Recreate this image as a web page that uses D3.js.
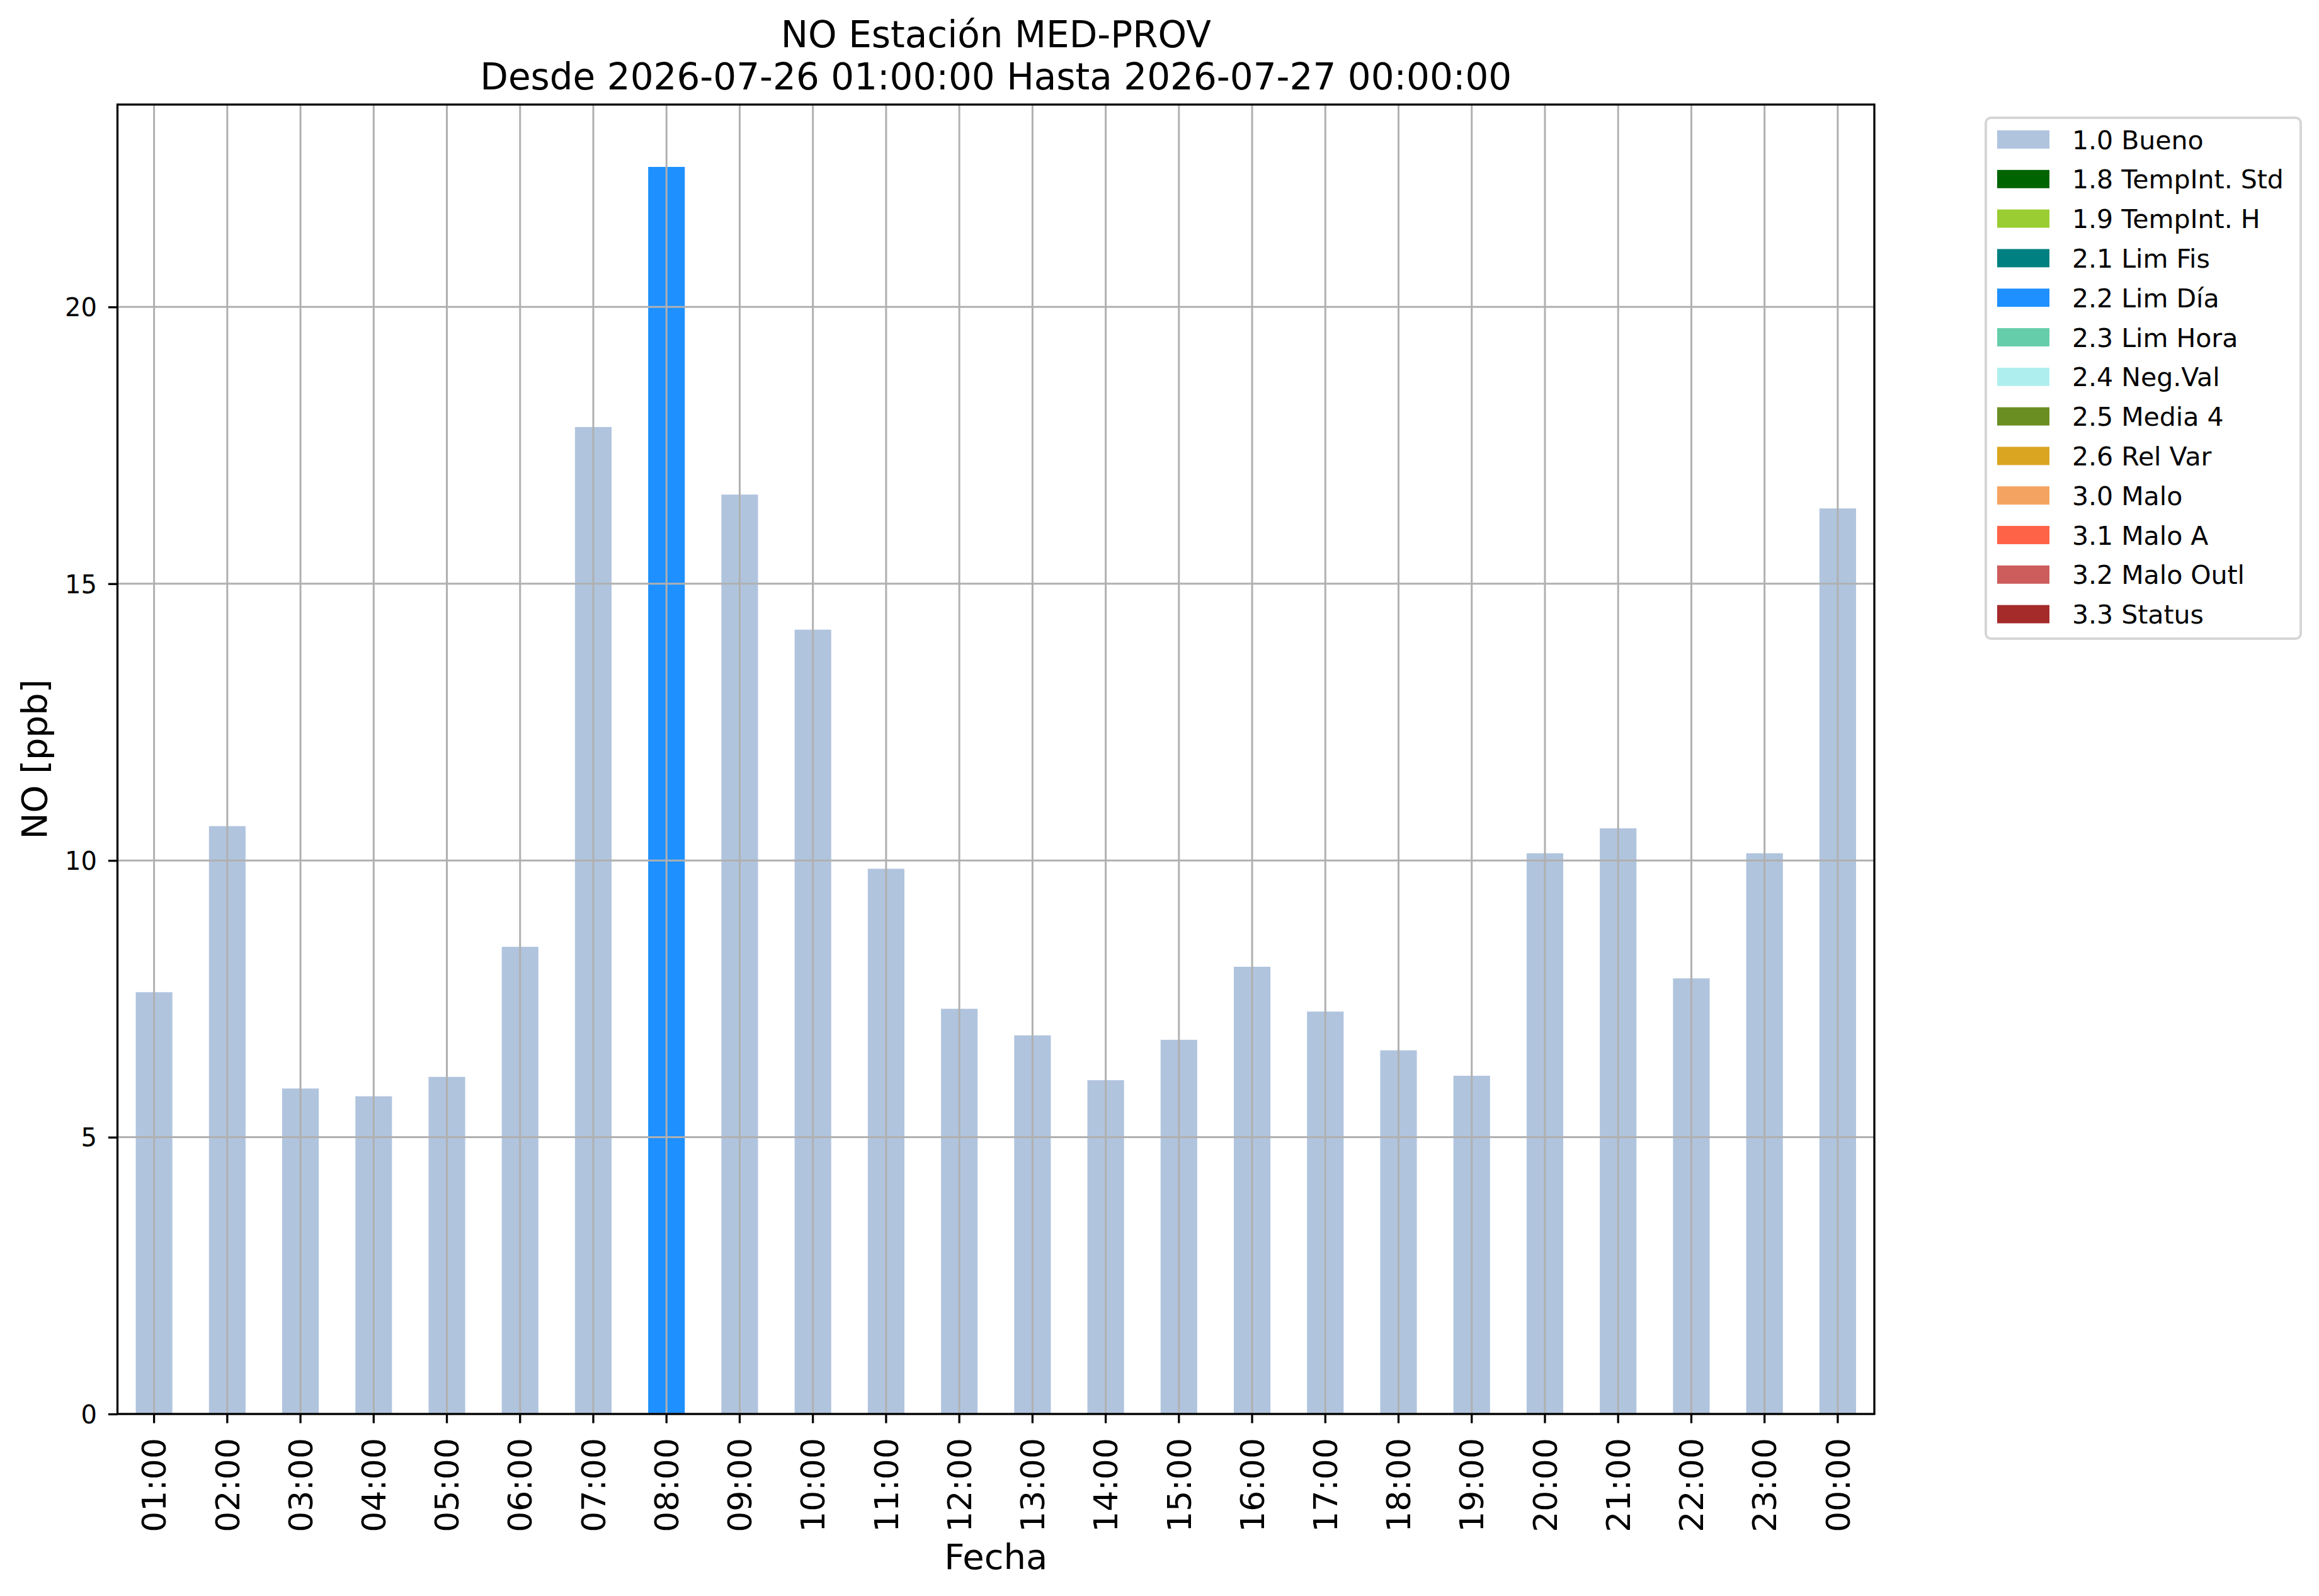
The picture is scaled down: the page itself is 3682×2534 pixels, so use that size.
<!DOCTYPE html>
<html>
<head>
<meta charset="utf-8">
<script src="https://cdn.jsdelivr.net/npm/d3@7"></script>
<style>
  body { margin: 0; background: #fff; }
  text { font-family: "DejaVu Sans", sans-serif; fill: #000; }
</style>
</head>
<body>
<div id="chart"></div>
<script>
// hourly NO values
var hours = ['01:00', '02:00', '03:00', '04:00', '05:00', '06:00', '07:00', '08:00',
  '09:00', '10:00', '11:00', '12:00', '13:00', '14:00', '15:00', '16:00',
  '17:00', '18:00', '19:00', '20:00', '21:00', '22:00', '23:00', '00:00']
var values = [7.62, 10.62, 5.88, 5.74, 6.09, 8.44, 17.83, 22.53,
  16.61, 14.17, 9.85, 7.32, 6.84, 6.03, 6.76, 8.08,
  7.27, 6.57, 6.11, 10.13, 10.58, 7.87, 10.13, 16.36]
// quality flag of each hour
var flags = ['1.0 Bueno', '1.0 Bueno', '1.0 Bueno', '1.0 Bueno', '1.0 Bueno', '1.0 Bueno', '1.0 Bueno', '2.2 Lim Día',
  '1.0 Bueno', '1.0 Bueno', '1.0 Bueno', '1.0 Bueno', '1.0 Bueno', '1.0 Bueno', '1.0 Bueno', '1.0 Bueno',
  '1.0 Bueno', '1.0 Bueno', '1.0 Bueno', '1.0 Bueno', '1.0 Bueno', '1.0 Bueno', '1.0 Bueno', '1.0 Bueno']

var flagLabels = ['1.0 Bueno', '1.8 TempInt. Std', '1.9 TempInt. H', '2.1 Lim Fis', '2.2 Lim Día',
  '2.3 Lim Hora', '2.4 Neg.Val', '2.5 Media 4', '2.6 Rel Var', '3.0 Malo', '3.1 Malo A',
  '3.2 Malo Outl', '3.3 Status']
var flagColors = ['lightsteelblue', 'darkgreen', 'yellowgreen', 'teal', 'dodgerblue',
  'mediumaquamarine', 'paleturquoise', 'olivedrab', 'goldenrod', 'sandybrown', 'tomato',
  'indianred', 'brown']
var yTicks = [0, 5, 10, 15, 20]

var titleLines = ['NO Estación MED-PROV', 'Desde 2026-07-26 01:00:00 Hasta 2026-07-27 00:00:00']

var W = 3682, H = 2534
var plot = { left: 186.5, right: 2976, top: 166, bottom: 2245 }
var lw = 3.3

var color = d3.scaleOrdinal().domain(flagLabels).range(flagColors)

var x = d3.scaleBand()
  .domain(hours)
  .range([plot.left, plot.right])
  .paddingInner(0.5)
  .paddingOuter(0.25)

var y = d3.scaleLinear()
  .domain([0, d3.max(values) * 1.05])
  .range([plot.bottom, plot.top])

var svg = d3.select('#chart').append('svg')
  .attr('width', W)
  .attr('height', H)

svg.append('rect').attr('width', W).attr('height', H).attr('fill', '#fff')

var data = hours.map(function(h, i) { return { hour: h, value: values[i], flag: flags[i] } })

// bars
svg.append('g').selectAll('rect')
  .data(data)
  .enter()
  .append('rect')
  .attr('x', function(d) { return x(d.hour) })
  .attr('width', x.bandwidth())
  .attr('y', function(d) { return y(d.value) })
  .attr('height', function(d) { return y(0) - y(d.value) })
  .attr('fill', function(d) { return color(d.flag) })

// grid, drawn over the bars like the original
var grid = svg.append('g').attr('stroke', '#b0b0b0').attr('stroke-width', 3)
grid.selectAll('line.v')
  .data(hours)
  .enter()
  .append('line')
  .attr('x1', function(d) { return x(d) + x.bandwidth() / 2 })
  .attr('x2', function(d) { return x(d) + x.bandwidth() / 2 })
  .attr('y1', plot.top)
  .attr('y2', plot.bottom)
grid.selectAll('line.h')
  .data(yTicks)
  .enter()
  .append('line')
  .attr('x1', plot.left)
  .attr('x2', plot.right)
  .attr('y1', function(d) { return y(d) })
  .attr('y2', function(d) { return y(d) })

// axes
var yAxis = svg.append('g')
  .attr('transform', 'translate(' + plot.left + ',0)')
  .call(d3.axisLeft(y).tickValues(yTicks).tickFormat(d3.format('d')).tickSize(14.6).tickPadding(18))
yAxis.select('.domain').remove()
yAxis.selectAll('line').attr('stroke', '#000').attr('stroke-width', lw)
yAxis.selectAll('text')
  .attr('font-size', 40)
  .attr('font-family', 'DejaVu Sans')
  .attr('dy', '0.36em')

var xAxis = svg.append('g')
  .attr('transform', 'translate(0,' + plot.bottom + ')')
  .call(d3.axisBottom(x).tickSize(14.6).tickPadding(0))
xAxis.select('.domain').remove()
xAxis.selectAll('line').attr('stroke', '#000').attr('stroke-width', lw)
xAxis.selectAll('text')
  .attr('font-size', 52)
  .attr('font-family', 'DejaVu Sans')
  .attr('text-anchor', 'end')
  .attr('transform', 'translate(0,38) rotate(-90)')
  .attr('x', 0)
  .attr('y', 0)
  .attr('dy', '0.36em')

// spines
svg.append('rect')
  .attr('x', plot.left)
  .attr('y', plot.top)
  .attr('width', plot.right - plot.left)
  .attr('height', plot.bottom - plot.top)
  .attr('fill', 'none')
  .attr('stroke', '#000')
  .attr('stroke-width', lw)

// title
var cx = (plot.left + plot.right) / 2
svg.append('g').selectAll('text')
  .data(titleLines)
  .enter()
  .append('text')
  .attr('x', cx)
  .attr('y', function(d, i) { return 75 + i * 67 })
  .attr('text-anchor', 'middle')
  .attr('font-size', 58)
  .text(function(d) { return d })

// axis labels
svg.append('text')
  .attr('x', cx)
  .attr('y', 2491)
  .attr('text-anchor', 'middle')
  .attr('font-size', 56)
  .text('Fecha')

svg.append('text')
  .attr('transform', 'translate(74,' + (plot.top + plot.bottom) / 2 + ') rotate(-90)')
  .attr('text-anchor', 'middle')
  .attr('font-size', 56)
  .text('NO [ppb]')

// legend
var legend = svg.append('g').attr('transform', 'translate(3153,187)')
legend.append('rect')
  .attr('width', 500)
  .attr('height', 827)
  .attr('rx', 8)
  .attr('fill', '#fff')
  .attr('fill-opacity', 0.8)
  .attr('stroke', '#d6d6d6')
  .attr('stroke-width', 4)

var items = legend.selectAll('g.item')
  .data(flagLabels)
  .enter()
  .append('g')
  .attr('transform', function(d, i) { return 'translate(0,' + (34.5 + i * 62.8) + ')' })
items.append('rect')
  .attr('x', 18)
  .attr('y', -14.5)
  .attr('width', 83)
  .attr('height', 29)
  .attr('fill', function(d) { return color(d) })
items.append('text')
  .attr('x', 137)
  .attr('y', 15)
  .attr('font-size', 41)
  .text(function(d) { return d })
</script>
</body>
</html>
